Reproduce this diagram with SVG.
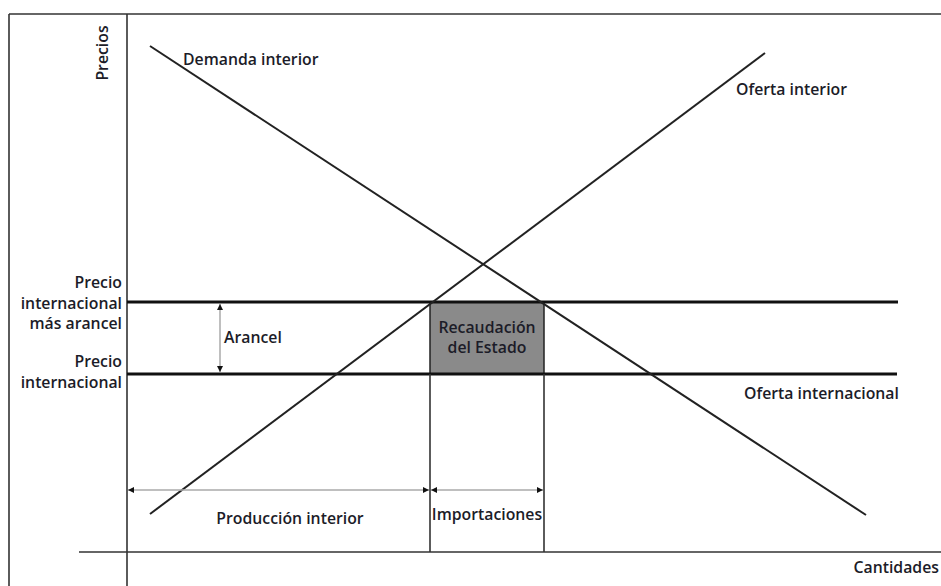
<svg xmlns="http://www.w3.org/2000/svg" width="941" height="586" viewBox="0 0 941 586">
<style>
text{font-family:"Open Sans","DejaVu Sans",sans-serif;font-size:15.8px;font-weight:600;fill:#1c1c28}
.frame{stroke:#333;stroke-width:1.6;fill:none}
.price{stroke:#111;stroke-width:3;fill:none}
.curve{stroke:#222;stroke-width:2;fill:none}
.vline{stroke:#333;stroke-width:1.6;fill:none}
.dim{stroke:#aaa;stroke-width:1.5;fill:none;marker-start:url(#ah);marker-end:url(#ah)}
.r{text-anchor:end}
.m{text-anchor:middle}
</style>
<defs>
<marker id="ah" viewBox="0 0 10 10" refX="10" refY="5" markerWidth="6" markerHeight="6" markerUnits="userSpaceOnUse" orient="auto-start-reverse">
<path d="M0,0 L10,5 L0,10 Z" fill="#111"/>
</marker>
</defs>
<rect width="941" height="586" fill="#fff"/>
<g id="frame">
<line class="frame" x1="9" y1="14" x2="941" y2="14"/>
<line class="frame" x1="9" y1="14" x2="9" y2="586"/>
</g>
<g id="axes">
<line class="frame" x1="127" y1="14" x2="127" y2="586"/>
<line class="frame" x1="79" y1="552" x2="941" y2="552"/>
<text id="precios" transform="translate(108,53) rotate(-90)" class="m">Precios</text>
<text id="cantidades" x="939" y="573" class="r">Cantidades</text>
</g>
<g id="recaudacion">
<rect x="430" y="302" width="114" height="72" fill="#8a8a8a" stroke="#222" stroke-width="1.5"/>
<text x="487" y="333" class="m">Recaudación</text>
<text x="487" y="353" class="m">del Estado</text>
</g>
<g id="connectors">
<line class="price" x1="127" y1="302" x2="898" y2="302"/>
<line class="price" x1="127" y1="374" x2="897" y2="374"/>
<line class="curve" x1="150" y1="46" x2="866" y2="515"/>
<line class="curve" x1="150" y1="514" x2="765" y2="53"/>
<line class="vline" x1="430" y1="374" x2="430" y2="552"/>
<line class="vline" x1="544" y1="374" x2="544" y2="552"/>
<line class="dim" x1="128" y1="490" x2="429" y2="490"/>
<line class="dim" x1="431" y1="490" x2="543" y2="490"/>
<line class="dim" x1="220" y1="304" x2="220" y2="372"/>
</g>
<g id="demanda"><text x="183" y="65">Demanda interior</text></g>
<g id="oferta-interior"><text x="736" y="95">Oferta interior</text></g>
<g id="oferta-internacional"><text x="744" y="399">Oferta internacional</text></g>
<g id="precio-arancel">
<text x="122" y="288" class="r">Precio</text>
<text x="122" y="309" class="r">internacional</text>
<text x="122" y="329" class="r">más arancel</text>
</g>
<g id="precio-internacional">
<text x="122" y="367" class="r">Precio</text>
<text x="122" y="388" class="r">internacional</text>
</g>
<g id="arancel"><text x="224" y="343">Arancel</text></g>
<g id="produccion"><text x="290" y="524" class="m">Producción interior</text></g>
<g id="importaciones"><text x="487" y="520" class="m">Importaciones</text></g>
</svg>
